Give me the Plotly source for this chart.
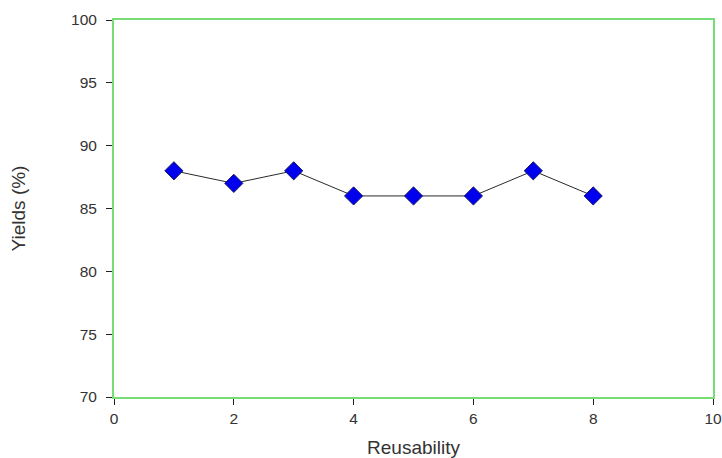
import plotly.graph_objects as go

reuse_cycles = [1, 2, 3, 4, 5, 6, 7, 8]
yields_pct = [88, 87, 88, 86, 86, 86, 88, 86]

FONT = "Liberation Sans, Arial, sans-serif"

fig = go.Figure()
fig.add_trace(go.Scatter(
    x=reuse_cycles, y=yields_pct, mode="lines+markers",
    line=dict(color="#2a2a2a", width=1),
    marker=dict(symbol="diamond", size=14, color="#0000ee",
                line=dict(color="#1a1a66", width=1)),
    showlegend=False,
))

axis_common = dict(
    showgrid=False, zeroline=False, showline=True, linecolor="#77dd77", linewidth=2,
    mirror=True, ticks="outside", ticklen=6, tickcolor="#222222", tickwidth=1,
    tickfont=dict(family=FONT, size=15.5, color="#333333"), automargin=False,
)
fig.update_xaxes(range=[0, 10], dtick=2, ticklabelstandoff=0,
                 title=dict(text="Reusability", standoff=21,
                            font=dict(family=FONT, size=19, color="#333333")),
                 **axis_common)
fig.update_yaxes(range=[70, 100], dtick=5, ticklabelstandoff=6,
                 title=dict(text="Yields (%)", standoff=40,
                            font=dict(family=FONT, size=19, color="#333333")),
                 **axis_common)
fig.update_layout(
    width=722, height=458, margin=dict(l=114, r=9, t=20, b=61),
    plot_bgcolor="white", paper_bgcolor="white",
)
fig.write_html("out.html", config={"displayModeBar": False},
               post_script="document.body.style.margin='0';document.body.style.overflow='hidden';")
